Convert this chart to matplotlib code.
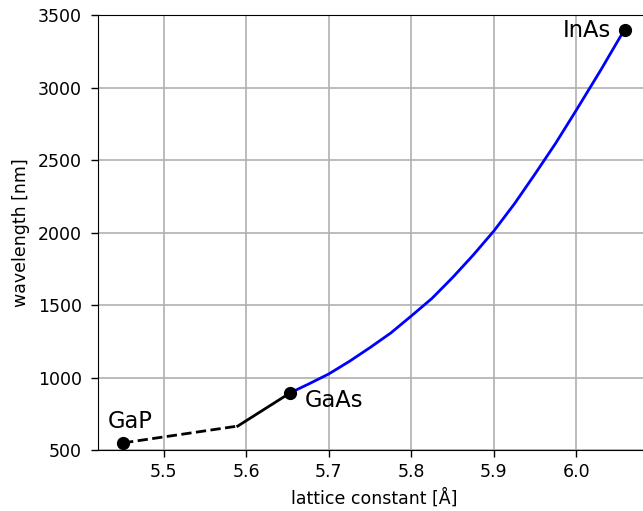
import matplotlib
matplotlib.use('Agg')
from matplotlib import pyplot as plt

# 端点化合物
names = ['GaP', 'GaAs', 'InAs']
lat = [5.4505, 5.6533, 6.0583]
wl = [549, 895, 3400]

# GaP -> 拐点（间接带隙，虚线）
gap_x = [5.4505, 5.5895]
gap_y = [549, 665]
# 拐点 -> GaAs
mid_x = [5.5895, 5.6533]
mid_y = [665, 895]
# GaAs -> InAs 曲线
ingaas_x = [5.6533, 5.675, 5.7, 5.725, 5.75, 5.775, 5.8, 5.825, 5.85,
            5.875, 5.9, 5.925, 5.95, 5.975, 6.0, 6.03, 6.0583]
ingaas_y = [895, 954, 1025, 1112, 1207, 1307, 1425, 1546, 1690,
            1845, 2011, 2199, 2405, 2617, 2845, 3125, 3400]

fig = plt.figure(figsize=(6.43, 5.11), dpi=100)
ax = fig.add_axes([98 / 643, 61 / 511, 551.6 / 643, 435 / 511])

ax.plot(gap_x, gap_y, '--', color='black', lw=2)
ax.plot(mid_x, mid_y, '-', color='black', lw=2)
ax.plot(ingaas_x, ingaas_y, '-', color='blue', lw=2)
ax.plot(lat, wl, 'o', color='black', ms=8.5, zorder=5)

# 标注
px = 72 / 100
ax.annotate(names[0], (lat[0], wl[0]), xytext=(-15 * px, 15 * px),
            textcoords='offset points', ha='left', va='baseline', fontsize=16.3)
ax.annotate(names[1], (lat[1], wl[1]), xytext=(14 * px, -14 * px),
            textcoords='offset points', ha='left', va='baseline', fontsize=16.3)
ax.annotate(names[2], (lat[2], wl[2]), xytext=(-14 * px, -7 * px),
            textcoords='offset points', ha='right', va='baseline', fontsize=16.3)

ax.set_xlim(5.4201, 6.0887)
ax.set_ylim(500, 3500)
ax.set_xticks([5.5, 5.6, 5.7, 5.8, 5.9, 6.0])
ax.set_xlabel('lattice constant [Å]', fontsize=12.5, labelpad=5)
ax.set_ylabel('wavelength [nm]', fontsize=12.5, labelpad=5.5)
ax.tick_params(labelsize=12.5, length=5, width=1)
ax.tick_params(axis='y', pad=6.5)
ax.tick_params(axis='x', pad=4.5)
ax.grid(True, color='#b0b0b0', lw=1.2)

fig.savefig('out.png', dpi=100)
